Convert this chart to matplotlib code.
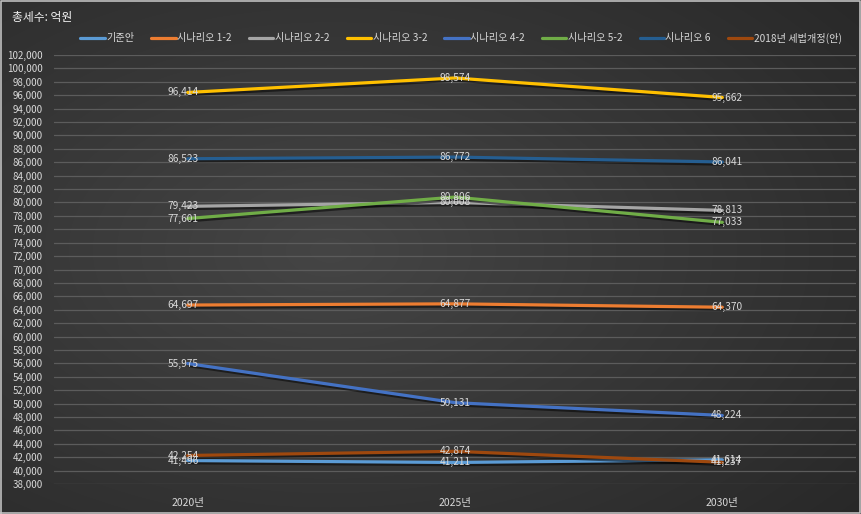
import numpy as np
import matplotlib
matplotlib.use('Agg')
import matplotlib.pyplot as plt
import matplotlib.patheffects as pe
from matplotlib.ticker import FuncFormatter, MultipleLocator

plt.rcParams['font.family'] = ['Noto Sans CJK KR', 'DejaVu Sans']

# 연도별 총세수 (억원)
years = ['2020년', '2025년', '2030년']
series_names = ['기준안', '시나리오 1-2', '시나리오 2-2', '시나리오 3-2',
                '시나리오 4-2', '시나리오 5-2', '시나리오 6', '2018년 세법개정(안)']
base = [41496, 41211, 41614]
s1_2 = [64697, 64877, 64370]
s2_2 = [79423, 80008, 78813]
s3_2 = [96414, 98574, 95662]
s4_2 = [55975, 50131, 48224]
s5_2 = [77601, 80806, 77033]
s6 = [86523, 86772, 86041]
rev2018 = [42254, 42874, 41237]
colors = ['#5B9BD5', '#ED7D31', '#A5A5A5', '#FFC000',
          '#4472C4', '#70AD47', '#255E91', '#9E480E']

all_series = [base, s1_2, s2_2, s3_2, s4_2, s5_2, s6, rev2018]

W, H = 861, 514
fig = plt.figure(figsize=(W / 100, H / 100), dpi=100)

# 어두운 그라데이션 배경
bg = fig.add_axes([0, 0, 1, 1])
yy, xx = np.mgrid[0:H, 0:W]
d = np.sqrt(((xx - 330) / W) ** 2 + ((yy - 250) / H) ** 2)
shade = 0.27 - 0.14 * d
bg.imshow(np.dstack([shade, shade, shade]), extent=[0, 1, 0, 1],
          aspect='auto', origin='upper')
bg.plot([0.001, 0.999, 0.999, 0.001, 0.001], [0.001, 0.001, 0.999, 0.999, 0.001],
        color='#bfbfbf', lw=1.2)
bg.set_xlim(0, 1)
bg.set_ylim(0, 1)
bg.axis('off')

# 플롯 영역: 102,000 -> y=55px, 38,000 -> y=484px
ax = fig.add_axes([54 / W, 1 - 484 / H, (856 - 54) / W, (484 - 55) / H])
ax.patch.set_alpha(0)
x = np.arange(len(years))
ax.set_xlim(-0.5, 2.5)
ax.set_ylim(38000, 102000)
ax.yaxis.set_major_locator(MultipleLocator(2000))
ax.yaxis.set_major_formatter(FuncFormatter(lambda v, p: f'{int(v):,}'))
ax.grid(axis='y', color='#5c5c5c', lw=0.9)
ax.set_axisbelow(True)
for s in ax.spines.values():
    s.set_visible(False)
ax.tick_params(axis='y', length=0, colors='#d9d9d9', labelsize=7, pad=8)
ax.tick_params(axis='x', length=0, colors='#d9d9d9', labelsize=7.5, pad=10)
ax.set_xticks(x)
ax.set_xticklabels(years)

shadow = [pe.SimpleLineShadow(offset=(1.2, -1.6), shadow_color='black', alpha=0.5),
          pe.Normal()]
handles = []
for name, vals, c in zip(series_names, all_series, colors):
    ln, = ax.plot(x, vals, color=c, lw=2.3, label=name, path_effects=shadow,
                  solid_capstyle='round')
    handles.append(ln)

# 값 레이블: 양 끝은 선 끝에 조금 겹치게
for vals in all_series:
    for i, v in enumerate(vals):
        ha = ['right', 'center', 'left'][i]
        dx = [8, 0, -8][i]
        ax.annotate(f'{v:,}', (x[i], v), xytext=(dx, 0), textcoords='offset points',
                    ha=ha, va='center', fontsize=7.3, color='#d9d9d9', zorder=5)

fig.text(12 / W, 1 - 17 / H, '총세수: 억원', fontsize=8.5, color='#f2f2f2',
         ha='left', va='center')

leg = fig.legend(handles=handles, loc='center', bbox_to_anchor=(461 / W, 1 - 38 / H),
                 ncol=8, frameon=False, fontsize=7.3, handlelength=2.4,
                 handletextpad=0.15, columnspacing=1.7, labelcolor='#d9d9d9')
for h in leg.legend_handles:
    h.set_path_effects([])

fig.savefig('out.png', dpi=100)
